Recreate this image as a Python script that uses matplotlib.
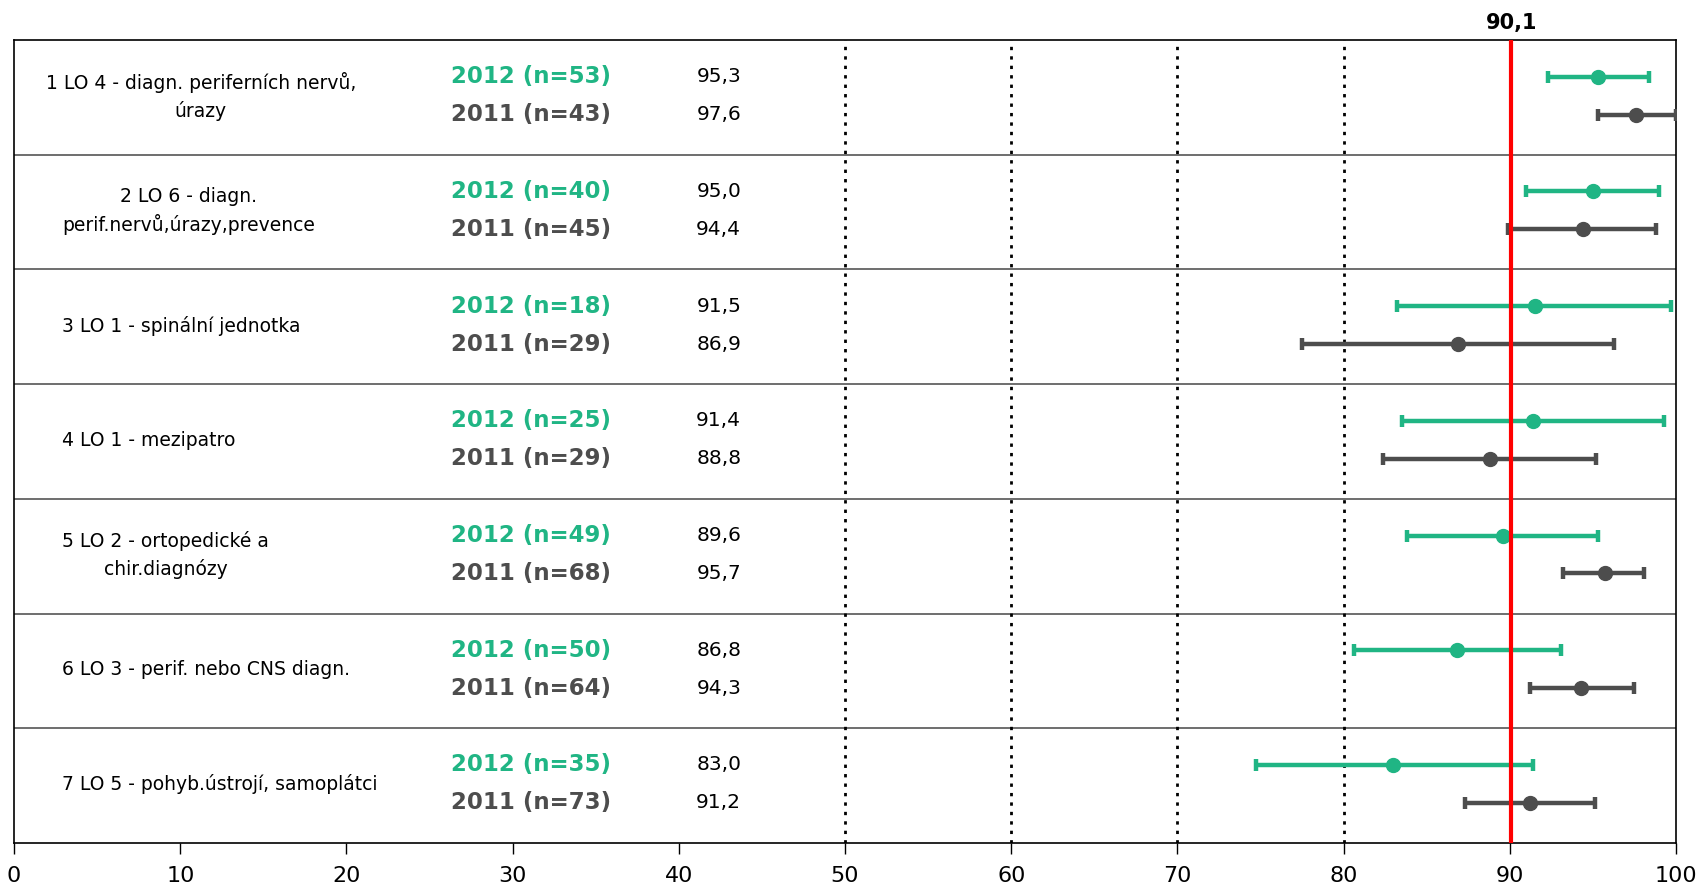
import matplotlib
matplotlib.use('Agg')
from matplotlib import pyplot as plt

# groups (top to bottom)
labels = ['1 LO 4 - diagn. periferních nervů,\núrazy',
          '2 LO 6 - diagn.\nperif.nervů,úrazy,prevence',
          '3 LO 1 - spinální jednotka',
          '4 LO 1 - mezipatro',
          '5 LO 2 - ortopedické a\nchir.diagnózy',
          '6 LO 3 - perif. nebo CNS diagn.',
          '7 LO 5 - pohyb.ústrojí, samoplátci']

# 2012
n_2012 = [53, 40, 18, 25, 49, 50, 35]
mean_2012 = [95.3, 95.0, 91.5, 91.4, 89.6, 86.8, 83.0]
low_2012 = [92.3, 91.0, 83.2, 83.5, 83.8, 80.6, 74.7]
high_2012 = [98.4, 99.0, 99.7, 99.3, 95.3, 93.1, 91.4]

# 2011
n_2011 = [43, 45, 29, 29, 68, 64, 73]
mean_2011 = [97.6, 94.4, 86.9, 88.8, 95.7, 94.3, 91.2]
low_2011 = [95.3, 89.9, 77.5, 82.4, 93.2, 91.2, 87.3]
high_2011 = [100.0, 98.8, 96.3, 95.2, 98.1, 97.5, 95.1]

overall = 90.1
ref_lines = [50, 60, 70, 80]

green = '#20b584'
grey = '#4d4d4d'

fig = plt.figure(figsize=(16.96, 8.91), dpi=100)
ax = fig.add_axes([0.0083, 0.054, 0.9799, 0.901])

nrows = len(labels)
for i in range(nrows):
    y1 = i + 0.32
    y2 = i + 0.65
    ax.errorbar(mean_2012[i], y1,
                xerr=[[mean_2012[i] - low_2012[i]], [high_2012[i] - mean_2012[i]]],
                fmt='o', color=green, ms=10, elinewidth=3.2, capsize=4, capthick=3.2, zorder=5)
    ax.errorbar(mean_2011[i], y2,
                xerr=[[mean_2011[i] - low_2011[i]], [high_2011[i] - mean_2011[i]]],
                fmt='o', color=grey, ms=10, elinewidth=3.2, capsize=4, capthick=3.2, zorder=5)

    # first label is wider than the text box, so it sticks out a bit on the left
    lx = 1.9 if i == 0 else 2.9
    ax.text(lx, i + 0.49, labels[i], ha='left', va='center', multialignment='center',
            fontsize=13.5, linespacing=1.5)
    ax.text(31.1, y1, '2012 (n=%d)' % n_2012[i], ha='center', va='center',
            fontsize=16.5, fontweight='bold', color=green)
    ax.text(31.1, y2, '2011 (n=%d)' % n_2011[i], ha='center', va='center',
            fontsize=16.5, fontweight='bold', color=grey)
    ax.text(42.4, y1, ('%.1f' % mean_2012[i]).replace('.', ','), ha='center', va='center',
            fontsize=14.5)
    ax.text(42.4, y2, ('%.1f' % mean_2011[i]).replace('.', ','), ha='center', va='center',
            fontsize=14.5)

    if i > 0:
        ax.axhline(i, color='#555555', lw=1.2, zorder=1)

for x in ref_lines:
    ax.axvline(x, color='black', lw=2, linestyle=(0, (1.2, 2.2)), zorder=2)

ax.axvline(overall, color='#ff0000', lw=3, zorder=6)
ax.text(overall, -0.06, ('%.1f' % overall).replace('.', ','), ha='center', va='bottom',
        fontsize=15, fontweight='bold')

ax.set_xlim(0, 100)
ax.set_ylim(nrows, 0)
ax.set_xticks(range(0, 101, 10))
ax.set_yticks([])
ax.tick_params(axis='x', length=8, width=1, labelsize=16, pad=9)
for s in ax.spines.values():
    s.set_linewidth(1.2)

plt.savefig('out.png', dpi=100)
